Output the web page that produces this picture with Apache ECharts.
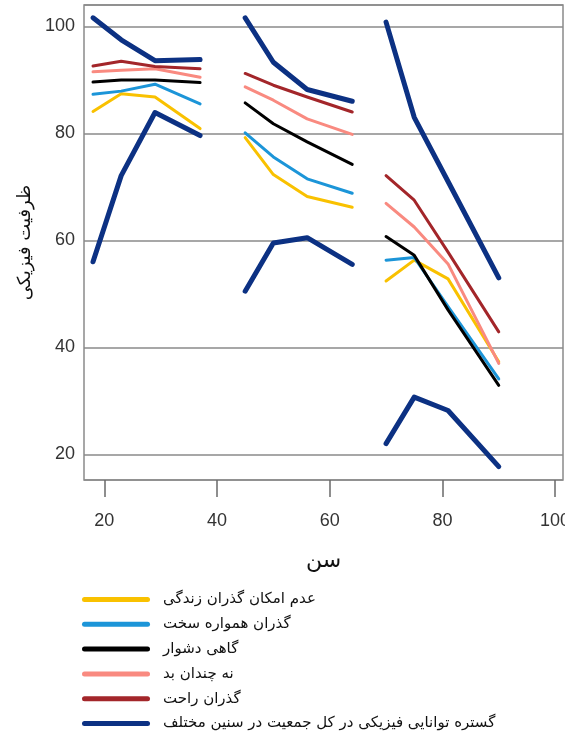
<!DOCTYPE html>
<html>
<head>
<meta charset="utf-8">
<script src="https://cdn.jsdelivr.net/npm/echarts@6/dist/echarts.min.js"></script>
<style>html,body{margin:0;padding:0;background:#fff;}#c{width:565px;height:733px;}</style>
</head>
<body>
<div id="c"></div>
<script>
// Ages (x positions) for the three age groups
const agesGroups = [[18, 23, 29, 37], [45, 50, 56, 64], [70, 75, 81, 90]];
const xTicks = [20, 40, 60, 80, 100];
const yTicks = [20, 40, 60, 80, 100];

// Series names (legend order)
const names = [
  'عدم امکان گذران زندگی',
  'گذران همواره سخت',
  'گاهی دشوار',
  'نه چندان بد',
  'گذران راحت',
  'گستره توانایی فیزیکی در کل جمعیت در سنین مختلف'
];

// Values per group
const yellowVals = [[84.1, 87.4, 86.8, 80.9], [79.2, 72.3, 68.2, 66.2], [52.4, 56.3, 52.8, 37.3]];
const blueVals = [[87.3, 87.9, 89.2, 85.5], [80.1, 75.6, 71.5, 68.8], [56.3, 56.8, 47.6, 34.1]];
const blackVals = [[89.6, 90.0, 90.0, 89.5], [85.7, 81.8, 78.4, 74.2], [60.7, 57.2, 47.0, 32.9]];
const pinkVals = [[91.5, 91.8, 92.1, 90.5], [88.7, 86.2, 82.7, 79.8], [66.9, 62.5, 55.6, 37.0]];
const darkRedVals = [[92.6, 93.5, 92.5, 92.1], [91.2, 89.0, 86.8, 84.0], [72.1, 67.5, 57.8, 42.9]];
const navyTopVals = [[101.6, 97.5, 93.6, 93.8], [101.6, 93.3, 88.2, 86.0], [100.8, 83.0, 71.0, 53.0]];
const navyBottomVals = [[56.0, 72.1, 83.9, 79.6], [50.5, 59.5, 60.5, 55.5], [22.0, 30.7, 28.2, 17.7]];

const colors = ['#F9C100', '#1C95D8', '#000000', '#F98A80', '#A3262A', '#0C3183'];

const series = [];
function addSeries(name, color, width, groups) {
  groups.forEach(function (vals, g) {
    series.push({
      type: 'line',
      name: name,
      data: vals.map(function (v, i) { return [agesGroups[g][i], v]; }),
      showSymbol: false,
      symbol: 'none',
      silent: true,
      lineStyle: { color: color, width: width, cap: 'round', join: 'round' },
      itemStyle: { color: color },
      animation: false
    });
  });
}
addSeries(names[0], colors[0], 3, yellowVals);
addSeries(names[1], colors[1], 3, blueVals);
addSeries(names[2], colors[2], 3, blackVals);
addSeries(names[3], colors[3], 3, pinkVals);
addSeries(names[4], colors[4], 3, darkRedVals);
addSeries(names[5], colors[5], 5, navyTopVals);
addSeries(names[5], colors[5], 5, navyBottomVals);

const numFont = "'Liberation Sans', sans-serif";
const faFont = "'DejaVu Sans', sans-serif";

const chart = echarts.init(document.getElementById('c'), null, { renderer: 'canvas' });
chart.setOption({
  animation: false,
  backgroundColor: '#fff',
  grid: {
    left: 84, right: 2, top: 5, bottom: 253,
    outerBoundsMode: 'none',
    containLabel: false,
    show: true, borderColor: '#8a8a8a', borderWidth: 1.5, backgroundColor: 'transparent'
  },
  xAxis: {
    type: 'value',
    min: 16.4, max: 101.4,
    minInterval: 20, maxInterval: 20,
    name: 'سن',
    nameLocation: 'middle',
    nameGap: 70,
    nameTextStyle: { fontFamily: faFont, fontSize: 22, color: '#111' },
    axisLine: { show: false },
    axisTick: { show: true, inside: false, length: 17, customValues: xTicks, lineStyle: { color: '#6a6a6a', width: 1.5 } },
    axisLabel: { customValues: xTicks, margin: 32, fontFamily: numFont, fontSize: 18, color: '#333' },
    splitLine: { show: false }
  },
  yAxis: {
    type: 'value',
    min: 15.2, max: 104,
    minInterval: 20, maxInterval: 20,
    name: 'ظرفیت فیزیکی',
    nameLocation: 'middle',
    nameGap: 50,
    nameRotate: 90,
    nameTextStyle: { fontFamily: faFont, fontSize: 18, color: '#111' },
    axisLine: { show: false },
    axisTick: { show: false },
    axisLabel: { customValues: yTicks, margin: 9, fontFamily: numFont, fontSize: 18, color: '#333' },
    splitLine: { show: true, lineStyle: { color: '#8a8a8a', width: 1.5 } }
  },
  legend: {
    orient: 'vertical',
    left: 82,
    top: 591,
    padding: 0,
    itemWidth: 68,
    itemHeight: 5,
    itemGap: 7.8,
    icon: 'path://M2.5,0 H65.5 A2.5,2.5 0 0 1 65.5,5 H2.5 A2.5,2.5 0 0 1 2.5,0 Z',
    selectedMode: false,
    data: names,
    textStyle: { fontFamily: faFont, fontSize: 15, color: '#111', lineHeight: 17, padding: [0, 0, 0, 8] }
  },
  series: series
});
</script>
</body>
</html>
